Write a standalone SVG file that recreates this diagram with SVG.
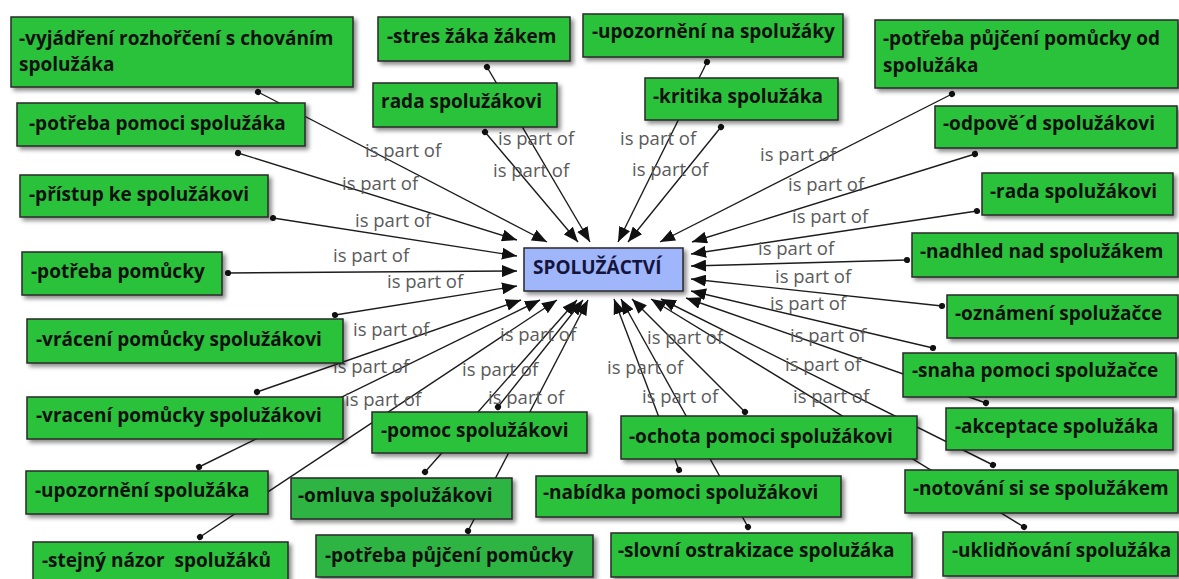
<svg xmlns="http://www.w3.org/2000/svg" width="1179" height="579" viewBox="0 0 1179 579">
  <defs>
    <filter id="sh" x="-10%" y="-20%" width="125%" height="160%">
      <feDropShadow dx="3" dy="3" stdDeviation="2.2" flood-color="#000" flood-opacity="0.45"/>
    </filter>
    <marker id="arr" viewBox="0 0 15 12" markerWidth="15" markerHeight="12" refX="15" refY="6" orient="auto" markerUnits="userSpaceOnUse">
      <path d="M0,0 L15,6 L0,12 z" fill="#111"/>
    </marker>
    <marker id="dot" viewBox="0 0 8 8" markerWidth="7" markerHeight="7" refX="4" refY="4" orient="auto" markerUnits="userSpaceOnUse">
      <circle cx="4" cy="4" r="3.5" fill="#111"/>
    </marker>
  </defs>
  <style>
    .n rect { fill: #2cc23b; stroke: #2a2a2a; stroke-width: 1.5; filter: url(#sh); }
    .n.dk rect { fill: #2db443; }
    .n text { font-family: "Open Sans", "Liberation Sans", sans-serif; font-weight: 700; font-size: 19px; fill: #111; white-space: pre; }
    #center rect { fill: #9fb6fb; stroke: #2a2a2a; stroke-width: 1.5; filter: url(#sh); }
    #center text { font-family: "Open Sans", "Liberation Sans", sans-serif; font-weight: 700; font-size: 19px; fill: #14143c; }
    .c line { stroke: #1c1c1c; stroke-width: 1.4; marker-start: url(#dot); marker-end: url(#arr); }
    .c text { font-family: "Open Sans", "Liberation Sans", sans-serif; font-size: 18.5px; fill: #5a5a5a; }
  </style>

  <rect width="1179" height="579" fill="#fff"/>

  <!-- links: every code points at the central code -->
  <g class="c" id="connectors">
    <line x1="258" y1="92" x2="547" y2="242"/>
    <line x1="238" y1="153" x2="517" y2="240"/>
    <line x1="273" y1="218" x2="517" y2="256"/>
    <line x1="228" y1="273" x2="517" y2="271"/>
    <line x1="335" y1="315" x2="517" y2="286"/>
    <line x1="257" y1="392" x2="521" y2="300"/>
    <line x1="199" y1="467" x2="540" y2="300"/>
    <line x1="200" y1="537" x2="557" y2="300"/>
    <line x1="425" y1="472" x2="577" y2="300"/>
    <line x1="498" y1="407" x2="583" y2="300"/>
    <line x1="468" y1="531" x2="588" y2="300"/>
    <line x1="487" y1="67" x2="590" y2="242"/>
    <line x1="485" y1="132" x2="578" y2="242"/>
    <line x1="707" y1="62" x2="618" y2="242"/>
    <line x1="721" y1="127" x2="628" y2="242"/>
    <line x1="952" y1="94" x2="660" y2="242"/>
    <line x1="975" y1="154" x2="692" y2="242"/>
    <line x1="977" y1="211" x2="691" y2="254"/>
    <line x1="907" y1="260" x2="691" y2="266"/>
    <line x1="942" y1="306" x2="691" y2="279"/>
    <line x1="933" y1="348" x2="691" y2="291"/>
    <line x1="986" y1="403" x2="686" y2="298"/>
    <line x1="993" y1="465" x2="661" y2="299"/>
    <line x1="1024" y1="527" x2="651" y2="299"/>
    <line x1="745" y1="412" x2="632" y2="299"/>
    <line x1="679" y1="470" x2="614" y2="299"/>
    <line x1="748" y1="527" x2="621" y2="299"/>

    <text x="365" y="157">is part of</text>
    <text x="342" y="190">is part of</text>
    <text x="355" y="227">is part of</text>
    <text x="333" y="262">is part of</text>
    <text x="387" y="288">is part of</text>
    <text x="353" y="336">is part of</text>
    <text x="333" y="373">is part of</text>
    <text x="345" y="406">is part of</text>
    <text x="498" y="145">is part of</text>
    <text x="493" y="177">is part of</text>
    <text x="620" y="145">is part of</text>
    <text x="632" y="176">is part of</text>
    <text x="760" y="161">is part of</text>
    <text x="788" y="191">is part of</text>
    <text x="792" y="223">is part of</text>
    <text x="758" y="255">is part of</text>
    <text x="775" y="283">is part of</text>
    <text x="770" y="310">is part of</text>
    <text x="790" y="342">is part of</text>
    <text x="785" y="371">is part of</text>
    <text x="793" y="403">is part of</text>
    <text x="500" y="341">is part of</text>
    <text x="462" y="376">is part of</text>
    <text x="488" y="404">is part of</text>
    <text x="647" y="344">is part of</text>
    <text x="607" y="374">is part of</text>
    <text x="642" y="403">is part of</text>
  </g>

  <!-- codes -->
  <g class="n" id="n1"><rect x="11" y="17" width="342" height="70"/><text x="19" y="45">-vyjádření rozhořčení s chováním</text><text x="19" y="71">spolužáka</text></g>
  <g class="n" id="n2"><rect x="378" y="17" width="192" height="44"/><text x="387" y="43">-stres žáka žákem</text></g>
  <g class="n" id="n3"><rect x="373" y="83" width="184" height="44"/><text x="381" y="108">rada spolužákovi</text></g>
  <g class="n" id="n4"><rect x="583" y="14" width="260" height="43"/><text x="592" y="38">-upozornění na spolužáky</text></g>
  <g class="n" id="n5"><rect x="645" y="78" width="193" height="42"/><text x="653" y="103">-kritika spolužáka</text></g>
  <g class="n" id="n6"><rect x="875" y="20" width="303" height="68"/><text x="883" y="45">-potřeba půjčení pomůcky od</text><text x="883" y="72">spolužáka</text></g>
  <g class="n" id="n7"><rect x="935" y="106" width="242" height="42"/><text x="943" y="130">-odpově´d spolužákovi</text></g>
  <g class="n" id="n8"><rect x="982" y="173" width="191" height="42"/><text x="990" y="198">-rada spolužákovi</text></g>
  <g class="n" id="n9"><rect x="912" y="233" width="266" height="44"/><text x="920" y="258">-nadhled nad spolužákem</text></g>
  <g class="n" id="n10"><rect x="947" y="295" width="231" height="43"/><text x="955" y="320">-oznámení spolužačce</text></g>
  <g class="n" id="n11"><rect x="903" y="353" width="273" height="44"/><text x="912" y="377">-snaha pomoci spolužačce</text></g>
  <g class="n" id="n12"><rect x="946" y="408" width="227" height="42"/><text x="955" y="433">-akceptace spolužáka</text></g>
  <g class="n" id="n13"><rect x="905" y="470" width="273" height="43"/><text x="913" y="495">-notování si se spolužákem</text></g>
  <g class="n" id="n14"><rect x="943" y="532" width="235" height="44"/><text x="952" y="557">-uklidňování spolužáka</text></g>
  <g class="n" id="n15"><rect x="621" y="416" width="296" height="43"/><text x="629" y="443">-ochota pomoci spolužákovi</text></g>
  <g class="n" id="n16"><rect x="536" y="476" width="305" height="41"/><text x="543" y="499">-nabídka pomoci spolužákovi</text></g>
  <g class="n" id="n17"><rect x="611" y="533" width="301" height="44"/><text x="618" y="557">-slovní ostrakizace spolužáka</text></g>
  <g class="n" id="n18"><rect x="372" y="412" width="215" height="41"/><text x="381" y="437">-pomoc spolužákovi</text></g>
  <g class="n dk" id="n19"><rect x="291" y="478" width="221" height="41"/><text x="298" y="502">-omluva spolužákovi</text></g>
  <g class="n dk" id="n20"><rect x="316" y="535" width="277" height="42"/><text x="325" y="562">-potřeba půjčení pomůcky</text></g>
  <g class="n" id="n21"><rect x="27" y="397" width="316" height="42"/><text x="36" y="422">-vracení pomůcky spolužákovi</text></g>
  <g class="n" id="n22"><rect x="26" y="471" width="242" height="43"/><text x="35" y="497">-upozornění spolužáka</text></g>
  <g class="n" id="n23"><rect x="33" y="542" width="255" height="40"/><text x="42" y="567">-stejný názor  spolužáků</text></g>
  <g class="n" id="n24"><rect x="27" y="319" width="316" height="44"/><text x="36" y="346">-vrácení pomůcky spolužákovi</text></g>
  <g class="n" id="n25"><rect x="22" y="252" width="200" height="43"/><text x="31" y="278">-potřeba pomůcky</text></g>
  <g class="n" id="n26"><rect x="20" y="175" width="248" height="42"/><text x="29" y="201">-přístup ke spolužákovi</text></g>
  <g class="n" id="n27"><rect x="17" y="103" width="288" height="43"/><text x="29" y="130">-potřeba pomoci spolužáka</text></g>

  <g id="center"><rect x="524" y="248" width="159" height="43"/><text x="533" y="274">SPOLUŽÁCTVÍ</text></g>
</svg>
